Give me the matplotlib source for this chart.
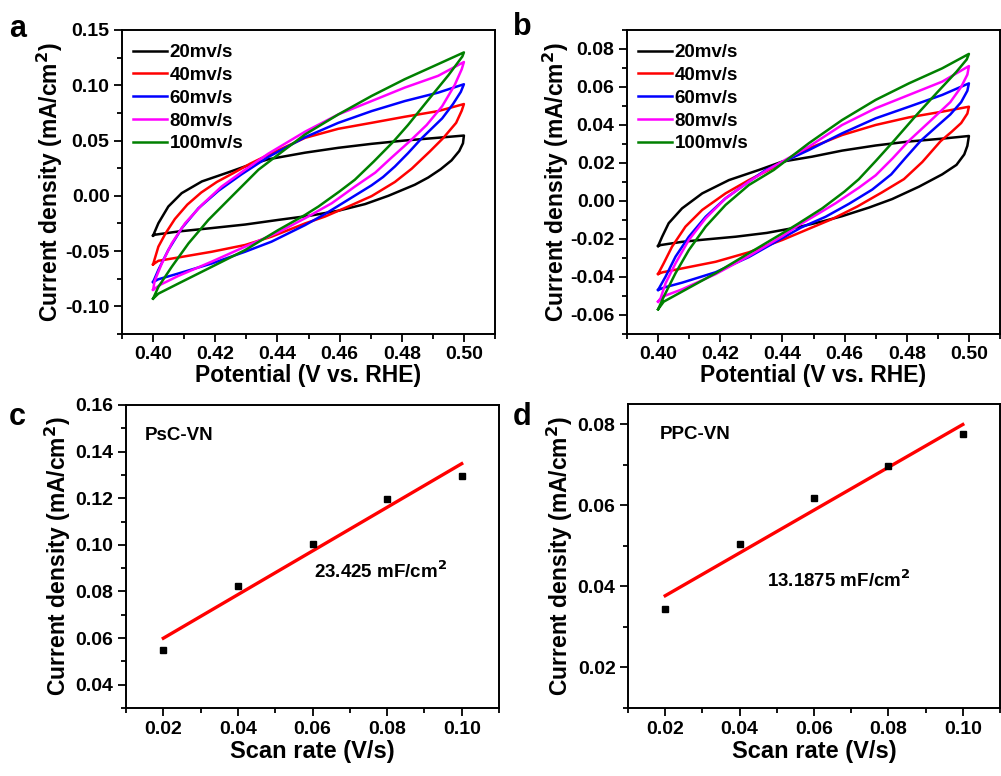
import matplotlib
matplotlib.use("Agg")
import matplotlib.pyplot as plt
import numpy as np
from matplotlib.ticker import MultipleLocator, FormatStrFormatter

plt.rcParams["font.family"] = ["Liberation Sans", "DejaVu Sans"]
plt.rcParams["font.weight"] = "bold"
plt.rcParams["axes.unicode_minus"] = False
plt.rcParams["mathtext.default"] = "bf"

RATES = ["20mv/s", "40mv/s", "60mv/s", "80mv/s", "100mv/s"]
COLORS = ["black", "#ff0000", "#0000ff", "#ff00ff", "#008000"]

# CV loops, PsC-VN (potential V vs. RHE, current density mA/cm2)
a20_v = [0.400, 0.4017, 0.4049, 0.4092, 0.4157, 0.4242, 0.4300, 0.4370, 0.4489, 0.4596, 0.4703, 0.4810, 0.4917, 0.5000,
         0.4997, 0.4985, 0.4960, 0.4925, 0.4885, 0.4842, 0.4757, 0.4682, 0.4596, 0.4505, 0.4403, 0.4296, 0.4189, 0.4081, 0.4006, 0.4000]
a20_j = [-0.0360, -0.0248, -0.0097, 0.0024, 0.0130, 0.0212, 0.0270, 0.0330, 0.0390, 0.0434, 0.0470, 0.0500, 0.0525, 0.0545,
         0.0475, 0.0405, 0.0320, 0.0240, 0.0165, 0.0100, 0.0000, -0.0075, -0.0135, -0.0180, -0.0218, -0.0260, -0.0292, -0.0323, -0.0352, -0.0360]
a40_v = [0.400, 0.4017, 0.4040, 0.4070, 0.4110, 0.4155, 0.4205, 0.4258, 0.4312, 0.4370, 0.4489, 0.4596, 0.4703, 0.4810, 0.4917, 0.5000,
         0.4993, 0.4975, 0.4934, 0.4890, 0.4832, 0.4778, 0.4703, 0.4628, 0.4553, 0.4489, 0.4381, 0.4296, 0.4189, 0.4081, 0.4017, 0.4000]
a40_j = [-0.0620, -0.0460, -0.0340, -0.0210, -0.0080, 0.0030, 0.0125, 0.0205, 0.0290, 0.0370, 0.0524, 0.0606, 0.0660, 0.0715, 0.0766, 0.0830,
         0.0770, 0.0660, 0.0524, 0.0400, 0.0245, 0.0125, -0.0003, -0.0097, -0.0188, -0.0250, -0.0370, -0.0445, -0.0506, -0.0558, -0.0588, -0.0620]
a60_v = [0.400, 0.4017, 0.4049, 0.4092, 0.4146, 0.4210, 0.4285, 0.4370, 0.4489, 0.4596, 0.4703, 0.4810, 0.4917, 0.5000,
         0.4990, 0.4965, 0.4930, 0.4864, 0.4820, 0.4778, 0.4740, 0.4703, 0.4628, 0.4553, 0.4489, 0.4381, 0.4296, 0.4189, 0.4081, 0.4017, 0.4000]
a60_j = [-0.0780, -0.0670, -0.0490, -0.0294, -0.0112, 0.0045, 0.0195, 0.0350, 0.0530, 0.0660, 0.0766, 0.0857, 0.0933, 0.1009,
         0.0940, 0.0830, 0.0700, 0.0520, 0.0385, 0.0265, 0.0170, 0.0095, -0.0035, -0.0165, -0.0265, -0.0415, -0.0506, -0.0612, -0.0703, -0.0755, -0.0780]
a80_v = [0.400, 0.4005, 0.4028, 0.4060, 0.4103, 0.4157, 0.4221, 0.4296, 0.4370, 0.4489, 0.4596, 0.4703, 0.4810, 0.4917, 0.5000,
         0.4993, 0.4970, 0.4930, 0.4880, 0.4826, 0.4765, 0.4715, 0.4650, 0.4575, 0.4489, 0.4403, 0.4296, 0.4189, 0.4081, 0.4023, 0.4000]
a80_j = [-0.0850, -0.0770, -0.0612, -0.0430, -0.0248, -0.0082, 0.0085, 0.0236, 0.0380, 0.0580, 0.0736, 0.0857, 0.0979, 0.1085, 0.1210,
         0.1145, 0.1000, 0.0810, 0.0640, 0.0494, 0.0340, 0.0210, 0.0085, -0.0067, -0.0203, -0.0330, -0.0460, -0.0595, -0.0725, -0.0805, -0.0850]
a100_v = [0.400, 0.4017, 0.4060, 0.4114, 0.4178, 0.4253, 0.4339, 0.4424, 0.4489, 0.4596, 0.4703, 0.4810, 0.4917, 0.5000,
          0.4995, 0.4950, 0.4886, 0.4820, 0.4773, 0.4710, 0.4649, 0.4600, 0.4532, 0.4489, 0.4403, 0.4296, 0.4189, 0.4081, 0.4017, 0.4000]
a100_j = [-0.0930, -0.0824, -0.0642, -0.0430, -0.0218, -0.0006, 0.0236, 0.0418, 0.0555, 0.0736, 0.0903, 0.1055, 0.1191, 0.1297,
          0.1260, 0.1090, 0.0870, 0.0640, 0.0490, 0.0310, 0.0145, 0.0040, -0.0097, -0.0173, -0.0309, -0.0491, -0.0642, -0.0794, -0.0885, -0.0930]

# CV loops, PPC-VN
b20_v = [0.400, 0.4013, 0.4034, 0.4077, 0.4142, 0.4228, 0.4324, 0.4399, 0.4495, 0.4592, 0.4700, 0.4807, 0.4914, 0.5000,
         0.4995, 0.4985, 0.4960, 0.4914, 0.4839, 0.4753, 0.4678, 0.4592, 0.4528, 0.4450, 0.4350, 0.4250, 0.4150, 0.4077, 0.4008, 0.4000]
b20_j = [-0.0237, -0.0188, -0.0117, -0.0039, 0.0040, 0.0110, 0.0163, 0.0207, 0.0233, 0.0265, 0.0292, 0.0313, 0.0328, 0.0342,
         0.0290, 0.0245, 0.0190, 0.0140, 0.0075, 0.0010, -0.0035, -0.0080, -0.0108, -0.0138, -0.0168, -0.0188, -0.0203, -0.0215, -0.0232, -0.0237]
b40_v = [0.400, 0.4018, 0.4045, 0.4088, 0.4142, 0.4217, 0.4292, 0.4356, 0.4485, 0.4592, 0.4700, 0.4807, 0.4914, 0.5000,
         0.4995, 0.4975, 0.4945, 0.4909, 0.4850, 0.4791, 0.4720, 0.4640, 0.4560, 0.4480, 0.4400, 0.4292, 0.4185, 0.4077, 0.4015, 0.4000]
b40_j = [-0.0384, -0.0328, -0.0240, -0.0135, -0.0047, 0.0040, 0.0110, 0.0163, 0.0277, 0.0347, 0.0400, 0.0440, 0.0470, 0.0496,
         0.0460, 0.0410, 0.0365, 0.0315, 0.0205, 0.0115, 0.0045, -0.0030, -0.0095, -0.0150, -0.0205, -0.0270, -0.0320, -0.0355, -0.0375, -0.0384]
b60_v = [0.400, 0.4024, 0.4056, 0.4099, 0.4153, 0.4217, 0.4292, 0.4346, 0.4485, 0.4592, 0.4700, 0.4807, 0.4914, 0.5000,
         0.4995, 0.4975, 0.4940, 0.4895, 0.4845, 0.4795, 0.4750, 0.4689, 0.4614, 0.4539, 0.4460, 0.4400, 0.4292, 0.4185, 0.4077, 0.4020, 0.4000]
b60_j = [-0.0468, -0.0398, -0.0293, -0.0188, -0.0083, 0.0014, 0.0102, 0.0163, 0.0268, 0.0356, 0.0435, 0.0496, 0.0558, 0.0619,
         0.0580, 0.0520, 0.0455, 0.0390, 0.0317, 0.0225, 0.0140, 0.0060, -0.0015, -0.0083, -0.0140, -0.0195, -0.0295, -0.0375, -0.0430, -0.0455, -0.0468]
b80_v = [0.400, 0.4008, 0.4024, 0.4056, 0.4099, 0.4153, 0.4217, 0.4292, 0.4351, 0.4485, 0.4592, 0.4700, 0.4807, 0.4914, 0.5000,
         0.4995, 0.4975, 0.4940, 0.4875, 0.4807, 0.4755, 0.4700, 0.4646, 0.4571, 0.4507, 0.4450, 0.4400, 0.4292, 0.4185, 0.4077, 0.4020, 0.4000]
b80_j = [-0.0530, -0.0512, -0.0433, -0.0328, -0.0205, -0.0091, 0.0014, 0.0102, 0.0163, 0.0286, 0.0400, 0.0488, 0.0558, 0.0628, 0.0710,
         0.0665, 0.0600, 0.0520, 0.0420, 0.0317, 0.0225, 0.0135, 0.0070, -0.0012, -0.0075, -0.0130, -0.0185, -0.0290, -0.0385, -0.0465, -0.0500, -0.0530]
b100_v = [0.400, 0.4018, 0.4056, 0.4099, 0.4153, 0.4217, 0.4292, 0.4372, 0.4485, 0.4592, 0.4700, 0.4807, 0.4914, 0.5000,
          0.4993, 0.4960, 0.4900, 0.4830, 0.4759, 0.4700, 0.4646, 0.4600, 0.4528, 0.4450, 0.4400, 0.4292, 0.4185, 0.4077, 0.4018, 0.4000]
b100_j = [-0.0570, -0.0504, -0.0380, -0.0258, -0.0135, -0.0021, 0.0084, 0.0163, 0.0304, 0.0426, 0.0532, 0.0619, 0.0698, 0.0774,
          0.0745, 0.0680, 0.0575, 0.0450, 0.0317, 0.0210, 0.0115, 0.0050, -0.0039, -0.0120, -0.0170, -0.0275, -0.0380, -0.0477, -0.0530, -0.0570]

# current density at 0.50 V vs. scan rate
scan_rate = [0.02, 0.04, 0.06, 0.08, 0.10]
psc_j = [0.0547, 0.0824, 0.1004, 0.1198, 0.1296]
ppc_j = [0.0345, 0.0505, 0.0617, 0.0697, 0.0777]

TICK_SIZE = 14
LABEL_SIZE = 16.5


def style_axes(ax, xmaj, ymaj):
    ax.xaxis.set_major_locator(MultipleLocator(xmaj))
    ax.xaxis.set_minor_locator(MultipleLocator(xmaj / 2))
    ax.yaxis.set_major_locator(MultipleLocator(ymaj))
    ax.yaxis.set_minor_locator(MultipleLocator(ymaj / 2))
    ax.xaxis.set_major_formatter(FormatStrFormatter("%.2f"))
    ax.yaxis.set_major_formatter(FormatStrFormatter("%.2f"))
    ax.tick_params(which="both", direction="out", width=1.3, labelsize=TICK_SIZE, pad=3)
    ax.tick_params(which="major", length=6)
    ax.tick_params(which="minor", length=3.5)
    for sp in ax.spines.values():
        sp.set_linewidth(1.4)
    for lab in ax.get_xticklabels() + ax.get_yticklabels():
        lab.set_fontweight("bold")


def draw_cv(ax, loops, ylim, ymaj, ylab_x):
    for (v, j), lab, c in zip(loops, RATES, COLORS):
        ax.plot(v, j, color=c, lw=1.8, label=lab)
    ax.set_xlim(0.39, 0.51)
    ax.set_ylim(*ylim)
    style_axes(ax, 0.02, ymaj)
    ax.set_xlabel("Potential (V vs. RHE)", fontsize=LABEL_SIZE, fontweight="bold")
    ax.set_ylabel("Current density (mA/cm$^2$)", fontsize=LABEL_SIZE, fontweight="bold")
    ax.xaxis.set_label_coords(0.5, -0.10)
    ax.yaxis.set_label_coords(ylab_x, 0.5)
    ax.legend(loc="upper left", bbox_to_anchor=(0.01, 0.978), frameon=False,
              handlelength=1.8, handletextpad=0.15, labelspacing=0.3,
              borderaxespad=0, prop={"weight": "bold", "size": 13.5})


def draw_fit(ax, rate, j, ylim, ymaj, name, name_xy, cap, cap_xy, ylab_x):
    k, b = np.polyfit(rate, j, 1)
    xs = np.array([rate[0], rate[-1]])
    ax.plot(xs, k * xs + b, color="#ff0000", lw=2.4, zorder=2)
    ax.plot(rate, j, "s", color="black", ms=5, zorder=3)
    ax.set_xlim(0.01, 0.11)
    ax.set_ylim(*ylim)
    style_axes(ax, 0.02, ymaj)
    ax.set_xlabel("Scan rate (V/s)", fontsize=LABEL_SIZE + 0.5, fontweight="bold")
    ax.set_ylabel("Current density (mA/cm$^2$)", fontsize=LABEL_SIZE, fontweight="bold")
    ax.xaxis.set_label_coords(0.5, -0.105)
    ax.yaxis.set_label_coords(ylab_x, 0.5)
    ax.text(*name_xy, name, transform=ax.transAxes, fontsize=13.5, fontweight="bold",
            va="center")
    ax.text(*cap_xy, cap, transform=ax.transAxes, fontsize=13.5, fontweight="bold",
            va="center")


fig = plt.figure(figsize=(10.01, 7.76), dpi=100)
ax_a = fig.add_axes([0.1219, 0.5696, 0.3726, 0.3918])
ax_b = fig.add_axes([0.6264, 0.5696, 0.3726, 0.3918])
ax_c = fig.add_axes([0.1259, 0.0876, 0.3726, 0.3905])
ax_d = fig.add_axes([0.6274, 0.0876, 0.3716, 0.3918])

draw_cv(ax_a, [(a20_v, a20_j), (a40_v, a40_j), (a60_v, a60_j), (a80_v, a80_j), (a100_v, a100_j)],
        (-0.125, 0.15), 0.05, -0.152)
draw_cv(ax_b, [(b20_v, b20_j), (b40_v, b40_j), (b60_v, b60_j), (b80_v, b80_j), (b100_v, b100_j)],
        (-0.07, 0.09), 0.02, -0.150)
draw_fit(ax_c, scan_rate, psc_j, (0.03, 0.16), 0.02, "PsC-VN", (0.05, 0.90),
         "23.425 mF/cm$^{2}$", (0.505, 0.45), -0.142)
draw_fit(ax_d, scan_rate, ppc_j, (0.01, 0.085), 0.02, "PPC-VN", (0.086, 0.898),
         "13.1875 mF/cm$^{2}$", (0.373, 0.42), -0.143)

for letter, (x, y) in zip("abcd", [(0.009, 0.963), (0.512, 0.965), (0.009, 0.462), (0.512, 0.463)]):
    fig.text(x, y, letter, fontsize=22, fontweight="bold", va="center")

fig.savefig("out.png", dpi=100)
